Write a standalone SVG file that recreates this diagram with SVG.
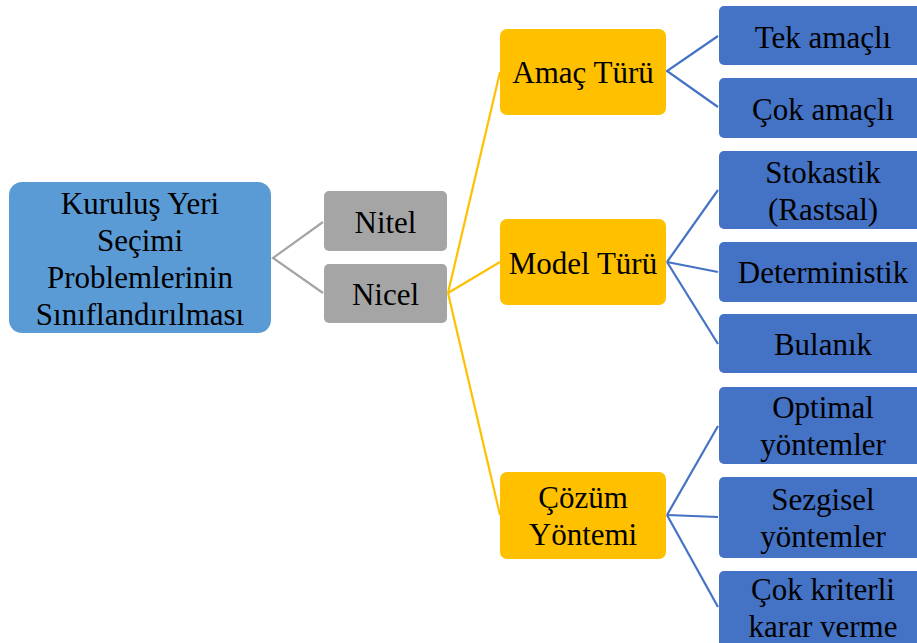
<svg xmlns="http://www.w3.org/2000/svg" width="917" height="643" viewBox="0 0 917 643">
  <style>
    .t { font-family: "Liberation Serif", "Times New Roman", serif; font-size: 31px; fill: #000; text-anchor: middle; }
    .root { fill: #5B9BD5; }
    .gray { fill: #A5A5A5; }
    .gold { fill: #FFC000; }
    .blue { fill: #4472C4; }
    .c-gray { stroke: #A5A5A5; stroke-width: 2.2; fill: none; }
    .c-gold { stroke: #FFC000; stroke-width: 2.2; fill: none; }
    .c-blue { stroke: #4472C4; stroke-width: 2.2; fill: none; }
  </style>
  <rect width="917" height="643" fill="#fff"/>

  <g id="connectors">
    <polyline class="c-gray" points="323,222 273,258 323,293"/>
    <line class="c-gold" x1="448" y1="293" x2="500" y2="72"/>
    <line class="c-gold" x1="448" y1="293" x2="500" y2="262"/>
    <line class="c-gold" x1="448" y1="293" x2="500" y2="515"/>
    <polyline class="c-blue" points="718,36 667,71 718,107"/>
    <line class="c-blue" x1="667" y1="262" x2="718" y2="190"/>
    <line class="c-blue" x1="667" y1="262" x2="718" y2="272"/>
    <line class="c-blue" x1="667" y1="262" x2="718" y2="344"/>
    <line class="c-blue" x1="667" y1="515" x2="718" y2="426"/>
    <line class="c-blue" x1="667" y1="515" x2="718" y2="517"/>
    <line class="c-blue" x1="667" y1="515" x2="718" y2="607"/>
  </g>

  <g id="root">
    <rect class="root" x="9" y="182" width="262" height="151" rx="13"/>
    <text class="t" x="140" y="214">Kuruluş Yeri</text>
    <text class="t" x="140" y="251">Seçimi</text>
    <text class="t" x="140" y="288">Problemlerinin</text>
    <text class="t" x="140" y="325">Sınıflandırılması</text>
  </g>

  <g id="nitel">
    <rect class="gray" x="324" y="191" width="123" height="60" rx="5"/>
    <text class="t" x="385.5" y="233">Nitel</text>
  </g>
  <g id="nicel">
    <rect class="gray" x="324" y="264" width="123" height="59" rx="5"/>
    <text class="t" x="385.5" y="305">Nicel</text>
  </g>

  <g id="amac-turu">
    <rect class="gold" x="500" y="29" width="166" height="86" rx="7"/>
    <text class="t" x="583" y="83">Amaç Türü</text>
  </g>
  <g id="model-turu">
    <rect class="gold" x="500" y="219" width="166" height="86" rx="7"/>
    <text class="t" x="583" y="274">Model Türü</text>
  </g>
  <g id="cozum-yontemi">
    <rect class="gold" x="500" y="472" width="166" height="87" rx="7"/>
    <text class="t" x="583" y="508">Çözüm</text>
    <text class="t" x="583" y="545">Yöntemi</text>
  </g>

  <g id="tek-amacli">
    <rect class="blue" x="719" y="6" width="210" height="59" rx="5"/>
    <text class="t" x="823" y="48">Tek amaçlı</text>
  </g>
  <g id="cok-amacli">
    <rect class="blue" x="719" y="78" width="210" height="60" rx="5"/>
    <text class="t" x="823" y="120">Çok amaçlı</text>
  </g>
  <g id="stokastik">
    <rect class="blue" x="719" y="151" width="210" height="78" rx="5"/>
    <text class="t" x="823" y="183">Stokastik</text>
    <text class="t" x="823" y="220">(Rastsal)</text>
  </g>
  <g id="deterministik">
    <rect class="blue" x="719" y="242" width="210" height="60" rx="5"/>
    <text class="t" x="823" y="283">Deterministik</text>
  </g>
  <g id="bulanik">
    <rect class="blue" x="719" y="314" width="210" height="59" rx="5"/>
    <text class="t" x="823" y="355">Bulanık</text>
  </g>
  <g id="optimal">
    <rect class="blue" x="719" y="387" width="210" height="77" rx="5"/>
    <text class="t" x="823" y="418">Optimal</text>
    <text class="t" x="823" y="455">yöntemler</text>
  </g>
  <g id="sezgisel">
    <rect class="blue" x="719" y="477" width="210" height="81" rx="5"/>
    <text class="t" x="823" y="510">Sezgisel</text>
    <text class="t" x="823" y="547">yöntemler</text>
  </g>
  <g id="cok-kriterli">
    <rect class="blue" x="719" y="571" width="210" height="90" rx="5"/>
    <text class="t" x="823" y="600">Çok kriterli</text>
    <text class="t" x="823" y="637">karar verme</text>
  </g>
</svg>
